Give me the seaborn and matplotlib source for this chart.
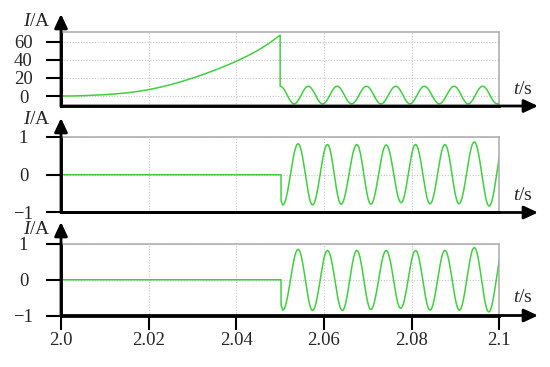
import numpy as np
import pandas as pd
import matplotlib
matplotlib.use("Agg")
import matplotlib.pyplot as plt
import seaborn as sns

# rising current before the switching instant (top panel, A)
rise_t = [2.0, 2.0025, 2.005, 2.0075, 2.01, 2.0125, 2.015, 2.0175, 2.02, 2.0225,
          2.025, 2.0275, 2.03, 2.0325, 2.035, 2.0375, 2.04, 2.0425, 2.045, 2.0475, 2.05]
rise_i = [0.0, 0.1, 0.4, 0.9, 1.5, 2.4, 3.5, 5.1, 7.0, 9.6,
          12.6, 16.0, 19.8, 23.9, 28.4, 33.2, 38.4, 44.2, 50.6, 58.3, 67.2]

# peaks / troughs of the oscillation after switching (top panel)
osc1_t = [2.0500, 2.0532, 2.0564, 2.0597, 2.0630, 2.0663, 2.0697, 2.0730, 2.0764,
          2.0796, 2.0829, 2.0863, 2.0897, 2.0929, 2.0962, 2.0995, 2.1028]
osc1_i = [10.8, -8.6, 10.8, -8.6, 10.8, -8.6, 10.8, -8.6, 10.8,
          -8.6, 10.8, -8.6, 10.8, -8.6, 10.8, -8.6, 10.8]

# middle and bottom panels: zero until switching, then oscillation
flat_t = [2.0, 2.0502]
flat_i = [0.0, 0.0]
osc2_t = [2.0502, 2.0506, 2.0541, 2.0574, 2.0608, 2.0639, 2.0675, 2.0707, 2.0742,
          2.0776, 2.0809, 2.0842, 2.0876, 2.0908, 2.0943, 2.0977, 2.1011]
osc2_i = [-0.70, -0.80, 0.82, -0.80, 0.80, -0.78, 0.80, -0.78, 0.79,
          -0.74, 0.80, -0.77, 0.80, -0.77, 0.87, -0.83, 0.87]
osc3_t = [2.0502, 2.0506, 2.0541, 2.0574, 2.0608, 2.0642, 2.0675, 2.0707, 2.0742,
          2.0775, 2.0809, 2.0842, 2.0876, 2.0909, 2.0943, 2.0976, 2.1010]
osc3_i = [-0.72, -0.85, 0.85, -0.86, 0.82, -0.86, 0.82, -0.83, 0.82,
          -0.80, 0.82, -0.85, 0.82, -0.85, 0.90, -0.90, 0.90]

xticks = [2.0, 2.02, 2.04, 2.06, 2.08, 2.1]
xtick_labels = ["2.0", "2.02", "2.04", "2.06", "2.08", "2.1"]
yticks_top = [0, 20, 40, 60]
yticks_low = [-1, 0, 1]


def half_waves(ts, vs, n=24):
    # join consecutive peaks and troughs with smooth half waves
    xs, ys = [], []
    for k in range(len(ts) - 1):
        s = np.linspace(0, 1, n)
        xs.extend(ts[k] + (ts[k + 1] - ts[k]) * s)
        ys.extend(vs[k] + (vs[k + 1] - vs[k]) * (1 - np.cos(np.pi * s)) / 2)
    return list(xs), list(ys)


def panel_frame(t0, i0, ot, oi):
    wt, wi = half_waves(ot, oi)
    return pd.DataFrame({"t": list(t0) + wt, "I": list(i0) + wi})


sns.set_style("white")
plt.rcParams["font.family"] = ["Liberation Serif", "DejaVu Serif"]
plt.rcParams["mathtext.fontset"] = "custom"
plt.rcParams["mathtext.it"] = "Liberation Serif:italic"
plt.rcParams["mathtext.rm"] = "Liberation Serif"

W, H = 550, 367
fig = plt.figure(figsize=(5.5, 3.67), dpi=100)

# (top px, bottom px, y limits, y ticks, data, arrow tip px, I/A y px, t/s y px)
panels = [
    (32, 106, (-11, 70.7), yticks_top, panel_frame(rise_t, rise_i, osc1_t, osc1_i), 14, 21, 90),
    (137, 212.5, (-1, 1), yticks_low, panel_frame(flat_t, flat_i, osc2_t, osc2_i), 118, 120, 195),
    (244, 315.5, (-1, 1), yticks_low, panel_frame(flat_t, flat_i, osc3_t, osc3_i), 222, 229, 297),
]

left, right = 61, 499.3
green = "#40cf40"

for idx, (top, bot, ylim, yt, df, tip, lab_y, ts_y) in enumerate(panels):
    ax = fig.add_axes([left / W, 1 - bot / H, (right - left) / W, (bot - top) / H])
    sns.lineplot(data=df, x="t", y="I", sort=False, estimator=None,
                 color=green, lw=1.1, ax=ax)
    ax.set_xlim(2.0, 2.1)
    ax.set_ylim(*ylim)
    ax.set_xticks(xticks)
    ax.set_yticks(yt)
    ax.set_yticklabels([str(v).replace("-", "\u2212") for v in yt])
    ax.set_xlabel("")
    ax.set_ylabel("")
    ax.grid(True, ls=(0, (1, 1.5)), color="#c4c4c4", lw=0.8)

    for side in ["top", "right"]:
        ax.spines[side].set_color("#aaaaaa")
        ax.spines[side].set_linewidth(1.1)
    for side in ["left", "bottom"]:
        ax.spines[side].set_color("black")
        ax.spines[side].set_linewidth(2)

    ax.tick_params(axis="y", direction="out", length=11, width=1.5,
                   color="black", labelsize=13.5, pad=16, left=True)
    for lbl in ax.get_yticklabels():
        lbl.set_horizontalalignment("center")

    if idx == 2:
        ax.set_xticklabels(xtick_labels)
        ax.tick_params(axis="x", direction="out", length=10, width=1.5,
                       color="black", labelsize=13.5, pad=2, bottom=True)
    else:
        ax.tick_params(axis="x", length=0, labelbottom=False)

    # axis arrows
    ax.annotate("", xy=(538 / W, 1 - bot / H), xycoords="figure fraction",
                xytext=(left / W, 1 - bot / H), textcoords="figure fraction",
                arrowprops=dict(arrowstyle="-|>,head_length=0.6,head_width=0.28",
                                lw=2, color="black", mutation_scale=14,
                                shrinkA=0, shrinkB=0))
    ax.annotate("", xy=(left / W, 1 - tip / H), xycoords="figure fraction",
                xytext=(left / W, 1 - bot / H), textcoords="figure fraction",
                arrowprops=dict(arrowstyle="-|>,head_length=0.6,head_width=0.28",
                                lw=2, color="black", mutation_scale=14,
                                shrinkA=0, shrinkB=0))

    fig.text(37 / W, 1 - lab_y / H, r"$I$/A", ha="center", va="center", fontsize=14)
    fig.text(523 / W, 1 - ts_y / H, r"$t$/s", ha="center", va="center", fontsize=14)

fig.savefig("out.png", dpi=100)
